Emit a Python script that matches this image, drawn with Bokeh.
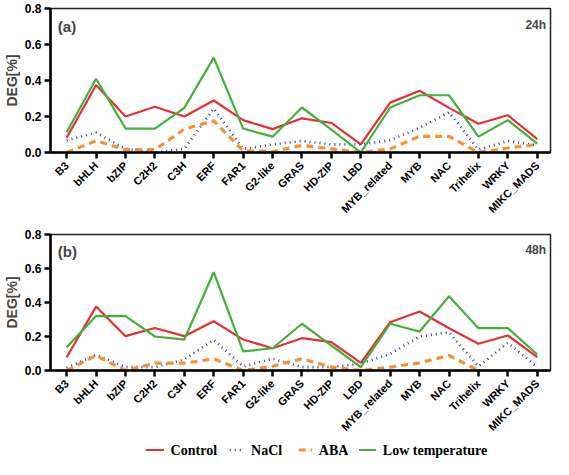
import math
from bokeh.plotting import figure
from bokeh.models import (Range1d, FixedTicker, NumeralTickFormatter, Label)
from bokeh.layouts import column
from bokeh.embed import file_html
from bokeh.resources import INLINE

categories = ["B3", "bHLH", "bZIP", "C2H2", "C3H", "ERF", "FAR1", "G2-like", "GRAS", "HD-ZIP",
              "LBD", "MYB_related", "MYB", "NAC", "Trihelix", "WRKY", "MIKC_MADS"]
y_ticks = [0.0, 0.2, 0.4, 0.6, 0.8]

# panel (a) 24h
control_24 = [0.082, 0.375, 0.20, 0.254, 0.20, 0.289, 0.18, 0.13, 0.19, 0.164, 0.045, 0.277, 0.343, 0.248, 0.16, 0.207, 0.074]
nacl_24 = [0.068, 0.11, 0.02, 0.0, 0.02, 0.244, 0.02, 0.045, 0.064, 0.045, 0.045, 0.068, 0.137, 0.224, 0.016, 0.064, 0.04]
aba_24 = [0.0, 0.065, 0.016, 0.016, 0.13, 0.176, 0.01, 0.005, 0.04, 0.02, 0.0, 0.02, 0.09, 0.09, 0.0, 0.025, 0.045]
low_24 = [0.113, 0.41, 0.133, 0.133, 0.248, 0.527, 0.133, 0.088, 0.25, 0.127, 0.0, 0.25, 0.318, 0.318, 0.088, 0.18, 0.049]

# panel (b) 48h
control_48 = [0.078, 0.376, 0.202, 0.25, 0.202, 0.29, 0.182, 0.131, 0.19, 0.167, 0.045, 0.284, 0.347, 0.249, 0.157, 0.206, 0.078]
nacl_48 = [0.016, 0.092, 0.02, 0.02, 0.065, 0.18, 0.025, 0.069, 0.02, 0.02, 0.04, 0.098, 0.2, 0.225, 0.024, 0.163, 0.02]
aba_48 = [0.0, 0.088, 0.0, 0.043, 0.043, 0.069, 0.0, 0.025, 0.069, 0.02, 0.0, 0.02, 0.045, 0.088, 0.0, 0.0, 0.0]
low_48 = [0.137, 0.32, 0.32, 0.2, 0.182, 0.578, 0.112, 0.131, 0.275, 0.147, 0.02, 0.275, 0.229, 0.437, 0.249, 0.249, 0.094]

series_names = ["Control", "NaCl", "ABA", "Low temperature"]
colors = ["#e53031", "#3a3aa8", "#f39237", "#44b03c"]
dashes = ["solid", "1 4", "7 5", "solid"]
widths = [2.2, 2.6, 3.2, 2.2]

xs = list(range(len(categories)))
FONT = "Liberation Sans"
STYLE = "bold"


def make_panel(data, tag, time_label, height, top_border):
    p = figure(width=553, height=height, output_backend="svg", toolbar_location=None,
               x_range=Range1d(-0.55, 16.45), y_range=Range1d(0, 0.8),
               min_border_left=44, min_border_right=3, min_border_top=top_border)
    for vals, c, d, w in zip(data, colors, dashes, widths):
        p.line(xs, vals, line_color=c, line_dash=d, line_width=w)
    p.grid.visible = False
    p.outline_line_color = "#222222"
    p.outline_line_width = 1.5

    p.xaxis.ticker = FixedTicker(ticks=xs)
    p.xaxis.major_label_overrides = {i: c for i, c in enumerate(categories)}
    p.xaxis.major_label_orientation = math.pi / 4
    p.yaxis.ticker = FixedTicker(ticks=y_ticks)
    p.yaxis.formatter = NumeralTickFormatter(format="0.0")
    for ax in (p.xaxis, p.yaxis):
        ax.axis_line_width = 2.5
        ax.axis_line_color = "black"
        ax.major_tick_line_width = 2.5
        ax.major_tick_line_color = "black"
        ax.major_tick_out = 6
        ax.major_tick_in = 0
        ax.minor_tick_line_color = None
        ax.major_label_text_font = FONT
        ax.major_label_text_font_style = STYLE
        ax.major_label_text_color = "black"
    p.xaxis.major_label_text_font_size = "11px"
    p.yaxis.major_label_text_font_size = "12px"
    p.yaxis.axis_label = "DEG[%]"
    p.yaxis.axis_label_text_font = FONT
    p.yaxis.axis_label_text_font_style = STYLE
    p.yaxis.axis_label_text_font_size = "14px"
    p.yaxis.axis_label_standoff = 2
    p.yaxis.major_label_standoff = 3

    p.add_layout(Label(x=-0.3, y=0.7, text=tag, text_font=FONT, text_font_style=STYLE,
                       text_font_size="15px", text_baseline="middle"))
    p.add_layout(Label(x=16.3, y=0.71, text=time_label, text_font=FONT, text_font_style=STYLE,
                       text_font_size="12px", text_baseline="middle", text_align="right"))
    return p


pa = make_panel([control_24, nacl_24, aba_24, low_24], "(a)", "24h", 222, 8)
pb = make_panel([control_48, nacl_48, aba_48, low_48], "(b)", "48h", 218, 12)

# legend strip
leg_x0 = [-0.64, 0.74, 1.87, 2.86]
leg_len = [0.3, 0.24, 0.22, 0.28]
pl = figure(width=553, height=19, output_backend="svg", toolbar_location=None,
            x_range=Range1d(-2.2, 6.0), y_range=Range1d(0, 1),
            min_border=0)
pl.axis.visible = False
pl.grid.visible = False
pl.outline_line_color = None
for x0, ln, name, c, d, w in zip(leg_x0, leg_len, series_names, colors, dashes, widths):
    pl.line([x0, x0 + ln], [0.5, 0.5], line_color=c, line_dash=d, line_width=w)
    pl.add_layout(Label(x=x0 + ln + 0.11, y=0.5, text=name, text_font="Liberation Serif",
                        text_font_style=STYLE, text_font_size="14px", text_baseline="middle",
                        text_color="black"))

layout = column(pa, pb, pl, spacing=0)
open("out.html", "w").write(file_html(layout, INLINE))
